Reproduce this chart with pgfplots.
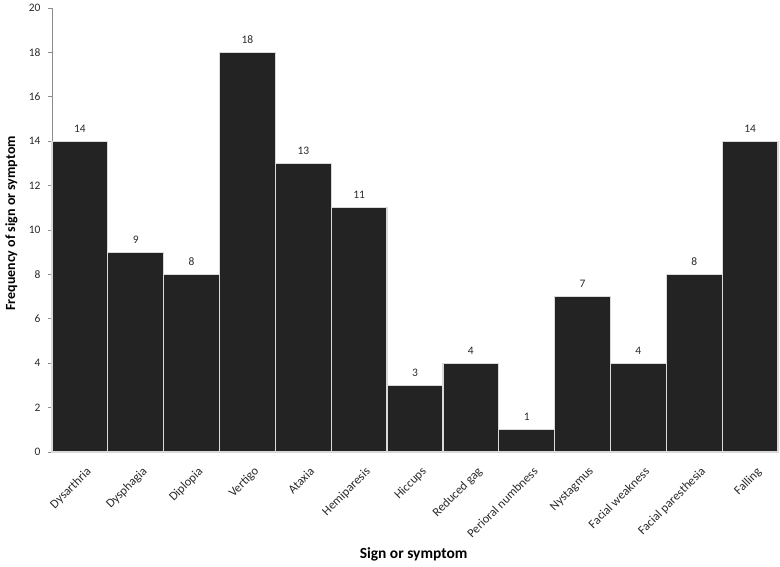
\documentclass[border=0pt]{standalone}
\usepackage{pgfplots}
\pgfplotsset{compat=1.18}
\usetikzlibrary{calc}
\usepackage{fontspec}
\setmainfont{Carlito}
\definecolor{barfill}{HTML}{232323}
\definecolor{axgray}{HTML}{8C8C8C}
\definecolor{txt}{HTML}{2A2A2A}
\begin{document}
\begin{tikzpicture}[x=1bp,y=1bp]
\begin{axis}[
  name=ax,
  scale only axis,
  width=726bp, height=444bp,
  xmin=-0.5, xmax=12.5,
  ymin=0, ymax=20,
  ytick={0,2,...,20},
  xtick={0,...,12},
  xticklabels={Dysarthria,Dysphagia,Diplopia,Vertigo,Ataxia,Hemiparesis,Hiccups,Reduced gag,Perioral numbness,Nystagmus,Facial weakness,Facial paresthesia,Falling},
  x tick label style={rotate=45, anchor=north east, font=\fontsize{12.5}{13}\selectfont, text=txt, inner sep=1pt, xshift=-2bp, yshift=-10bp},
  y tick label style={font=\fontsize{11.5}{12}\selectfont, text=txt, xshift=-4bp},
  /pgf/number format/assume math mode=true,
  axis x line*=bottom, axis y line*=left,
  axis line style={axgray, line width=0.8pt},
  x axis line style={-}, y axis line style={-},
  major tick length=4bp,
  ytick style={axgray, line width=0.8pt},
  xtick style={draw=none},
  tick align=outside,
  ylabel={\bfseries Frequency of sign or symptom},
  xlabel={\bfseries Sign or symptom},
  label style={font=\fontsize{14}{16}\selectfont, text=black},
  ylabel style={at={(axis description cs:-0.0558,0.515)}, anchor=center},
  xlabel style={at={(axis description cs:0.498,-0.2297)}, anchor=center, font=\fontsize{15.5}{17}\selectfont},
  clip=false,
  nodes near coords,
  nodes near coords style={font=\fontsize{11.5}{12}\selectfont, text=txt, yshift=5bp},
]
\addplot[ybar, bar width=1, fill=barfill, draw=white!85!black, line width=1.2pt] coordinates {
(0,14) (1,9) (2,8) (3,18) (4,13) (5,11) (6,3) (7,4) (8,1) (9,7) (10,4) (11,8) (12,14)
};
\end{axis}
\pgfresetboundingbox
\path[use as bounding box] ($(ax.south west)+(-52bp,-115bp)$) rectangle ($(ax.north east)+(2bp,8bp)$);
\end{tikzpicture}
\end{document}
